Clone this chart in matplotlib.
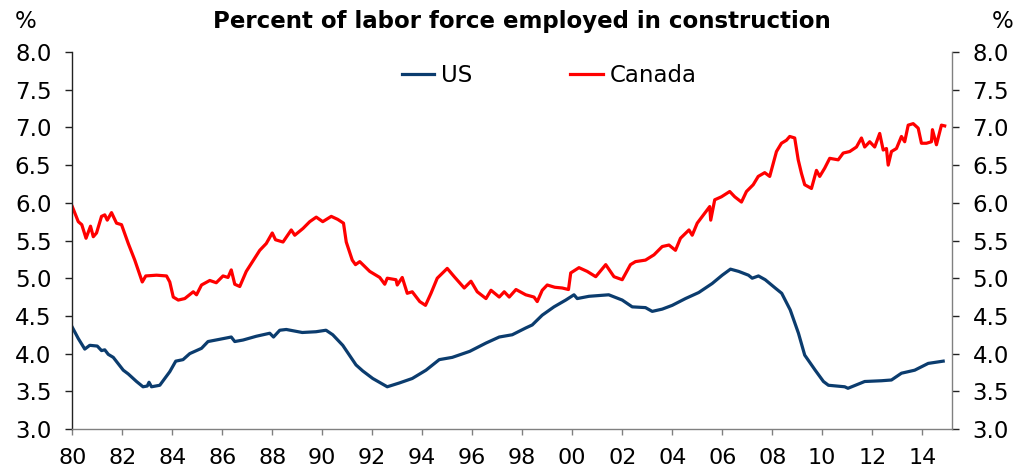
import matplotlib
matplotlib.use('Agg')
import numpy as np
import matplotlib.pyplot as plt
from matplotlib.ticker import FixedLocator, FixedFormatter

# US construction share of labor force
us_years = [1980.0, 1980.24, 1980.5, 1980.7, 1981.0, 1981.17, 1981.3, 1981.44, 1981.64,
            1982.04, 1982.24, 1982.57, 1982.83, 1983.0, 1983.07, 1983.17, 1983.5, 1983.9,
            1984.14, 1984.43, 1984.7, 1985.17, 1985.43, 1985.9, 1986.36, 1986.5, 1986.83,
            1987.36, 1987.9, 1988.05, 1988.3, 1988.56, 1989.2, 1989.75, 1990.15, 1990.42,
            1990.82, 1991.35, 1991.62, 1992.02, 1992.6, 1993.08, 1993.6, 1994.15, 1994.68,
            1995.2, 1995.9, 1996.55, 1997.08, 1997.6, 1998.14, 1998.4, 1998.8, 1999.27,
            1999.74, 2000.07, 2000.2, 2000.67, 2001.46, 2002.0, 2002.4, 2002.93, 2003.2,
            2003.6, 2004.0, 2004.53, 2005.06, 2005.6, 2006.0, 2006.33, 2006.66, 2007.05,
            2007.2, 2007.45, 2007.72, 2008.12, 2008.38, 2008.72, 2009.05, 2009.3, 2009.72,
            2010.05, 2010.25, 2010.9, 2011.03, 2011.7, 2012.37, 2012.77, 2013.17, 2013.7,
            2014.24, 2014.84]
us_vals = [4.35, 4.20, 4.06, 4.11, 4.10, 4.04, 4.05, 3.99, 3.95,
           3.78, 3.73, 3.63, 3.56, 3.57, 3.62, 3.56, 3.58, 3.76,
           3.90, 3.92, 4.00, 4.07, 4.16, 4.19, 4.22, 4.16, 4.18,
           4.23, 4.27, 4.22, 4.31, 4.32, 4.28, 4.29, 4.31, 4.25,
           4.11, 3.85, 3.77, 3.67, 3.56, 3.61, 3.67, 3.78, 3.92,
           3.95, 4.03, 4.14, 4.22, 4.25, 4.34, 4.38, 4.51, 4.62,
           4.71, 4.78, 4.73, 4.76, 4.78, 4.71, 4.62, 4.61, 4.56,
           4.59, 4.64, 4.73, 4.81, 4.93, 5.04, 5.12, 5.09, 5.04,
           5.00, 5.03, 4.98, 4.87, 4.80, 4.58, 4.27, 3.98, 3.78,
           3.63, 3.58, 3.56, 3.54, 3.63, 3.64, 3.65, 3.74, 3.78,
           3.87, 3.90]

# Canada
ca_years = [1980.0, 1980.24, 1980.38, 1980.55, 1980.73, 1980.84, 1980.97, 1981.17, 1981.3,
            1981.4, 1981.57, 1981.77, 1981.97, 1982.24, 1982.5, 1982.8, 1982.94, 1983.37,
            1983.77, 1983.9, 1984.04, 1984.24, 1984.5, 1984.84, 1984.97, 1985.17, 1985.5,
            1985.76, 1986.03, 1986.23, 1986.36, 1986.5, 1986.7, 1986.96, 1987.5, 1987.76,
            1988.0, 1988.13, 1988.43, 1988.76, 1988.9, 1989.23, 1989.5, 1989.76, 1990.02,
            1990.36, 1990.62, 1990.85, 1990.96, 1991.2, 1991.33, 1991.5, 1991.9, 1992.3,
            1992.5, 1992.6, 1992.95, 1993.0, 1993.2, 1993.4, 1993.6, 1993.9, 1994.13,
            1994.35, 1994.6, 1995.0, 1995.28, 1995.68, 1995.95, 1996.2, 1996.55, 1996.75,
            1997.08, 1997.28, 1997.48, 1997.75, 1998.14, 1998.47, 1998.6, 1998.8, 1999.0,
            1999.3, 1999.6, 1999.85, 1999.94, 2000.27, 2000.6, 2000.94, 2001.34, 2001.67,
            2002.0, 2002.33, 2002.53, 2002.93, 2003.27, 2003.6, 2003.87, 2004.13, 2004.33,
            2004.67, 2004.8, 2005.0, 2005.5, 2005.54, 2005.7, 2005.97, 2006.3, 2006.5,
            2006.77, 2006.97, 2007.24, 2007.44, 2007.7, 2007.9, 2008.17, 2008.37, 2008.57,
            2008.7, 2008.9, 2009.04, 2009.17, 2009.3, 2009.57, 2009.77, 2009.9, 2010.1,
            2010.3, 2010.64, 2010.84, 2011.1, 2011.37, 2011.57, 2011.7, 2011.9, 2012.1,
            2012.3, 2012.44, 2012.57, 2012.64, 2012.77, 2012.97, 2013.17, 2013.3, 2013.44,
            2013.64, 2013.84, 2013.97, 2014.17, 2014.37, 2014.41, 2014.57, 2014.77, 2014.9]
ca_vals = [5.95, 5.75, 5.71, 5.53, 5.69, 5.55, 5.60, 5.82, 5.84,
           5.77, 5.87, 5.73, 5.71, 5.46, 5.24, 4.95, 5.03, 5.04,
           5.03, 4.95, 4.75, 4.71, 4.73, 4.82, 4.78, 4.91, 4.97,
           4.94, 5.03, 5.01, 5.11, 4.92, 4.89, 5.09, 5.37, 5.46,
           5.60, 5.51, 5.48, 5.64, 5.57, 5.66, 5.75, 5.81, 5.75,
           5.82, 5.78, 5.73, 5.48, 5.24, 5.18, 5.22, 5.09, 5.01,
           4.92, 5.00, 4.98, 4.91, 5.01, 4.80, 4.82, 4.69, 4.64,
           4.80, 5.00, 5.13, 5.02, 4.87, 4.96, 4.82, 4.73, 4.84,
           4.75, 4.82, 4.75, 4.85, 4.78, 4.75, 4.69, 4.84, 4.91,
           4.88, 4.87, 4.85, 5.07, 5.14, 5.09, 5.02, 5.18, 5.02,
           4.98, 5.18, 5.22, 5.24, 5.31, 5.42, 5.44, 5.37, 5.53,
           5.64, 5.57, 5.73, 5.95, 5.77, 6.04, 6.08, 6.15, 6.08,
           6.01, 6.15, 6.24, 6.35, 6.40, 6.35, 6.68, 6.79, 6.83,
           6.88, 6.86, 6.57, 6.39, 6.24, 6.19, 6.43, 6.35, 6.46,
           6.59, 6.57, 6.66, 6.68, 6.74, 6.86, 6.74, 6.81, 6.74,
           6.92, 6.70, 6.72, 6.50, 6.68, 6.72, 6.88, 6.81, 7.03,
           7.05, 6.99, 6.79, 6.79, 6.81, 6.97, 6.77, 7.03, 7.02]

xtick_years = list(range(1980, 2015, 2))
xtick_labels = ['%02d' % (y % 100) for y in xtick_years]
ytick_vals = [3.0, 3.5, 4.0, 4.5, 5.0, 5.5, 6.0, 6.5, 7.0, 7.5, 8.0]

plt.rcParams['font.family'] = ['DejaVu Sans']
fsize = 16.5

fig = plt.figure(figsize=(10.34, 4.72), dpi=100)
ax = fig.add_axes([0.0699, 0.0911, 0.8505, 0.7987])

ax.plot(us_years, us_vals, color='#0b3c6e', lw=2.3, label='US')
ax.plot(ca_years, ca_vals, color='#ff0000', lw=2.3, label='Canada')

ax.set_xlim(1980, 2015.18)
ax.set_ylim(3.0, 8.0)

ax.xaxis.set_major_locator(FixedLocator(xtick_years))
ax.xaxis.set_major_formatter(FixedFormatter(xtick_labels))
ax.yaxis.set_major_locator(FixedLocator(ytick_vals))
ax.yaxis.set_major_formatter(FixedFormatter(['%.1f' % v for v in ytick_vals]))

ax.spines['top'].set_visible(False)
ax.spines['left'].set_color('#222222')
ax.spines['right'].set_color('#808080')
ax.spines['bottom'].set_color('#808080')
for s in ['left', 'right', 'bottom']:
    ax.spines[s].set_linewidth(1.0)

ax.tick_params(axis='y', which='both', direction='out', length=5, width=1,
               left=True, right=True, labelleft=True, labelright=True,
               labelsize=fsize, pad=10, colors='#222222', labelcolor='black')
ax.tick_params(axis='x', direction='out', length=4.5, width=1, colors='#808080',
               labelcolor='black', labelsize=16, pad=9)

fig.text(0.505, 0.955, 'Percent of labor force employed in construction',
         ha='center', va='center', fontsize=16.5, fontweight='bold')
fig.text(0.025, 0.955, '%', ha='center', va='center', fontsize=fsize)
fig.text(0.970, 0.955, '%', ha='center', va='center', fontsize=fsize)

fig.legend(loc='center', bbox_to_anchor=(0.531, 0.84), ncol=2, frameon=False,
           fontsize=fsize, handlelength=1.4, handletextpad=0.3, columnspacing=4.3)

plt.savefig('out.png', dpi=100)
